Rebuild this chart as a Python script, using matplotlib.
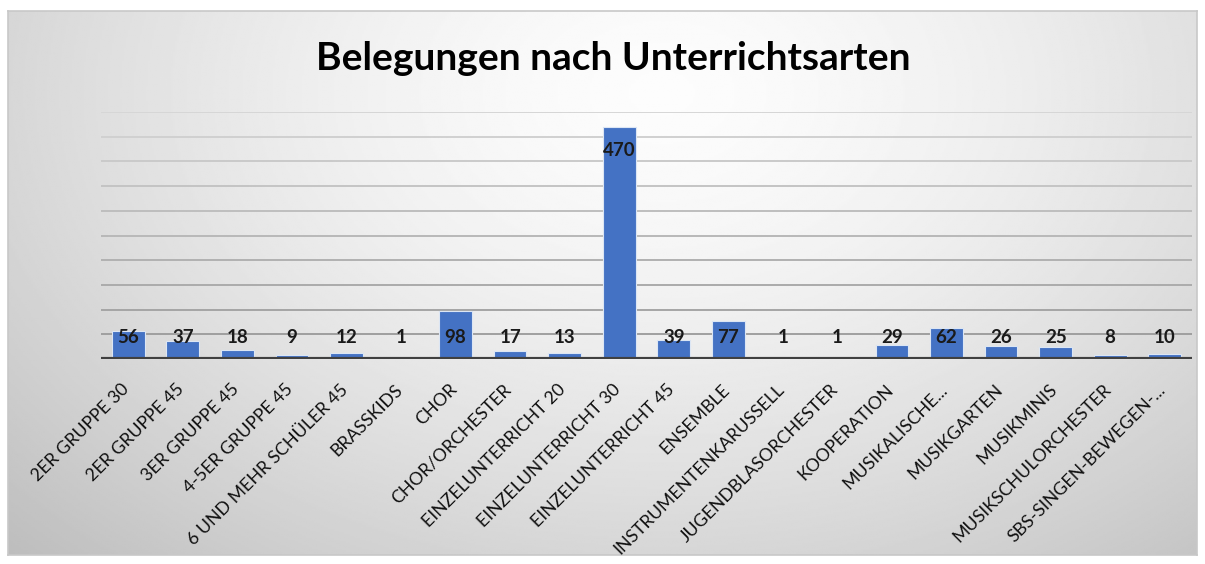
import numpy as np
import matplotlib.pyplot as plt
import matplotlib.transforms as mtransforms

categories = ["2ER GRUPPE 30", "2ER GRUPPE 45", "3ER GRUPPE 45", "4-5ER GRUPPE 45",
              "6 UND MEHR SCHÜLER 45", "BRASSKIDS", "CHOR", "CHOR/ORCHESTER",
              "EINZELUNTERRICHT 20", "EINZELUNTERRICHT 30", "EINZELUNTERRICHT 45",
              "ENSEMBLE", "INSTRUMENTENKARUSSELL", "JUGENDBLASORCHESTER", "KOOPERATION",
              "MUSIKALISCHE...", "MUSIKGARTEN", "MUSIKMINIS", "MUSIKSCHULORCHESTER",
              "SBS-SINGEN-BEWEGEN-..."]
values = [56, 37, 18, 9, 12, 1, 98, 17, 13, 470, 39, 77, 1, 1, 29, 62, 26, 25, 8, 10]
title = "Belegungen nach Unterrichtsarten"

W, H = 1205, 564
fig = plt.figure(figsize=(W / 100, H / 100), dpi=100)
fig.patch.set_facecolor("white")

# background: radial gray gradient inside a thin frame
bg = fig.add_axes([8 / W, 1 - 555 / H, (1197 - 8) / W, (555 - 11) / H])
yy, xx = np.mgrid[0:1:300j, 0:1:600j]
d = np.sqrt(((xx - 0.55) / 0.72) ** 2 + ((yy - 0.15) / 1.1) ** 2)
shade = 0.99 - 0.22 * np.clip(d, 0, 1.3) ** 1.5
bg.imshow(shade, cmap="gray", vmin=0, vmax=1, aspect="auto", extent=[0, 1, 1, 0])
bg.set_xticks([])
bg.set_yticks([])
for s in bg.spines.values():
    s.set_color("#c8c8c8")
    s.set_linewidth(1.2)

# plot area
left, right, top_px, base_px = 101, 1192, 112, 359
ax = fig.add_axes([left / W, 1 - base_px / H, (right - left) / W, (base_px - top_px) / H])
ax.patch.set_alpha(0)
x = np.arange(len(categories))
ax.set_xlim(-0.5, len(categories) - 0.5)
ax.set_ylim(0, 500)
for g in range(50, 501, 50):
    t = g / 500
    c = 0.60 + 0.24 * t
    ax.axhline(g, color=(c, c, c), lw=1.4, zorder=1)
ax.bar(x, values, width=0.6, color="#4472c4", edgecolor="#dce6f4", linewidth=0.8, zorder=2)
ax.axhline(0, color="#404040", lw=3, zorder=3)

for xi, v in zip(x, values):
    ly = v - 47 if v > 200 else 44
    ax.text(xi, ly, str(v), ha="center", va="center", fontsize=13.5,
            fontweight="bold", family="Lato", color="#1a1a1a", zorder=4)

ax.set_xticks(x)
ax.set_xticklabels(categories, rotation=45, ha="right", rotation_mode="anchor",
                   fontsize=12.8, family="Lato", color="#111111")
ax.tick_params(axis="x", length=0, pad=16)
shift = mtransforms.ScaledTranslation(-7 / 100, 0, fig.dpi_scale_trans)
for lab in ax.get_xticklabels():
    lab.set_transform(lab.get_transform() + shift)
ax.set_yticks([])
for s in ax.spines.values():
    s.set_visible(False)

fig.text(613 / W, 1 - 58 / H, title, ha="center", va="center", fontsize=28,
         fontweight="bold", family="Lato", color="#000000")

fig.savefig("out.png", dpi=100)
